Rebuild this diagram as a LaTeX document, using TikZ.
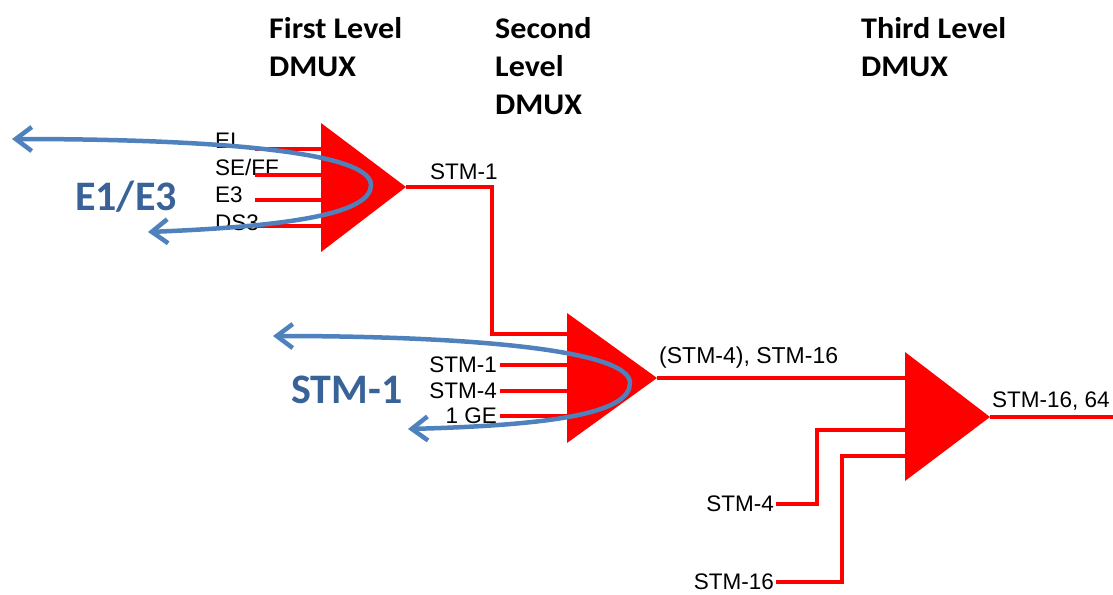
\documentclass[tikz,border=0pt]{standalone}
\usepackage{fontspec}
\setmainfont{Liberation Sans}
\newfontfamily\headfont[FakeStretch=1.07]{Carlito}
\newfontfamily\bluefont{Carlito}
\usetikzlibrary{arrows.meta}
\definecolor{sigred}{RGB}{255,0,0}
\definecolor{curveblue}{RGB}{79,129,189}
\definecolor{textblue}{RGB}{56,98,152}
\begin{document}
\begin{tikzpicture}[x=1pt,y=-1pt,
  sig/.style={draw=sigred, line width=4pt},
  lab/.style={font=\fontsize{22.5}{22.5}\selectfont, inner sep=0pt},
  head/.style={font=\headfont\bfseries\fontsize{30}{38}\selectfont, align=left, anchor=north west, inner sep=0pt},
  bigblue/.style={font=\bluefont\bfseries\fontsize{42}{42}\selectfont, text=textblue, inner sep=0pt},
  loopar/.style={draw=curveblue, line width=4.5pt, line cap=round,
     {Straight Barb[length=16pt,width=24pt]}-{Straight Barb[length=16pt,width=24pt]}}
]
\useasboundingbox (0,0) rectangle (1113,594);

% headings
\node[head] (h1) at (269,17) {First Level\\DMUX};
\node[head] (h2) at (495,17) {Second\\Level\\DMUX};
\node[head] (h3) at (861,17) {Third Level\\DMUX};

% triangle corners
\coordinate (t1top) at (321,123); \coordinate (t1bot) at (321,252); \coordinate (t1apex) at (406,187);
\coordinate (t2top) at (567,313); \coordinate (t2bot) at (567,443); \coordinate (t2apex) at (657,378);
\coordinate (t3top) at (905,352); \coordinate (t3bot) at (905,481); \coordinate (t3apex) at (990,417);

% first level input labels
\node[lab, anchor=base west] (l11) at (215,148) {EI};
\node[lab, anchor=base west] (l12) at (215,175) {SE/FF};
\node[lab, anchor=base west] (l13) at (215,202) {E3};
\node[lab, anchor=base west] (l14) at (215,230) {DS3};
\coordinate (i11) at (255,149);
\coordinate (i12) at (255,175);
\coordinate (i13) at (255,200);
\coordinate (i14) at (255,226);

% second level input labels
\node[lab, anchor=east] (l21) at (497,365) {STM-1};
\node[lab, anchor=east] (l22) at (497,391) {STM-4};
\node[lab, anchor=east] (l23) at (497,416) {1 GE};

% third level input labels
\node[lab, anchor=east] (l31) at (774,504) {STM-4};
\node[lab, anchor=east] (l32) at (774,582) {STM-16};
\coordinate (j31) at (817,430);
\coordinate (j32) at (842,456);

% output labels
\node[lab, anchor=west] (o1) at (430,172) {STM-1};
\node[lab, anchor=west, font=\fontsize{23}{23}\selectfont] (o2) at (659,358) {(STM-4), STM-16};
\node[lab, anchor=west] (o3) at (992,401) {STM-16, 64};
\coordinate (out) at (1113,417);
\coordinate (b12) at (492,187);

% triangles
\fill[sigred] (t1top) -- (t1apex) -- (t1bot) -- cycle;
\fill[sigred] (t2top) -- (t2apex) -- (t2bot) -- cycle;
\fill[sigred] (t3top) -- (t3apex) -- (t3bot) -- cycle;

% signal lines
\foreach \i in {i11,i12,i13,i14} \draw[sig] (\i) -- (\i -| t1top);
\foreach \l in {l21,l22,l23} \draw[sig] ([xshift=3pt]\l.east) -- (\l.east -| t2top);
\draw[sig] (t1apex) -- (b12) |- (t2top |- 0,334);
\draw[sig] (t2apex) -- (t2apex -| t3top);
\draw[sig] ([xshift=2pt]l31.east) -| (j31) -- (j31 -| t3top);
\draw[sig] ([xshift=2pt]l32.east) -| (j32) -- (j32 -| t3top);
\draw[sig] (t3apex) -- (out);

% blue labels
\node[bigblue] (e1e3) at (126,197) {E1/E3};
\node[bigblue] (stm1) at (347,390) {STM-1};

% blue loops
\coordinate (a1) at (12,139); \coordinate (r1) at (371,185); \coordinate (b1) at (148,232);
\draw[loopar] (a1) .. controls (200,139) and (371,150) .. (r1) .. controls (371,212) and (300,226) .. (b1);
\coordinate (a2) at (273,336); \coordinate (r2) at (630,383); \coordinate (b2) at (408,429);
\draw[loopar] (a2) .. controls (470,336) and (630,350) .. (r2) .. controls (630,412) and (560,425) .. (b2);
\end{tikzpicture}
\end{document}
